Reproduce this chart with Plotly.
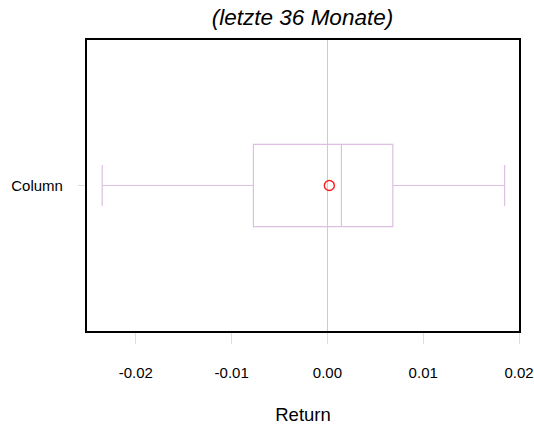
import plotly.graph_objects as go

category = ["Column"]
q1 = [-0.00773]
median = [0.00146]
q3 = [0.00683]
lower_whisker = [-0.02351]
upper_whisker = [0.0185]
mean = [0.0002]
tick_vals = [-0.02, -0.01, 0.0, 0.01, 0.02]
tick_text = ["-0.02", "-0.01", "0.00", "0.01", "0.02"]

fig = go.Figure()
fig.add_trace(go.Box(
    y=category, q1=q1, median=median, q3=q3,
    lowerfence=lower_whisker, upperfence=upper_whisker,
    orientation="h", width=0.283, whiskerwidth=0.5,
    line=dict(color="#DDBFE2", width=1.2), fillcolor="rgba(0,0,0,0)",
    boxpoints=False, showlegend=False, hoverinfo="skip",
))
fig.add_trace(go.Scatter(
    x=mean, y=category, mode="markers",
    marker=dict(symbol="circle-open", size=10, color="#FF1A1A", line=dict(width=1.4)),
    showlegend=False, hoverinfo="skip",
))

font = "Liberation Sans, Arial, Helvetica, sans-serif"
fig.update_layout(
    width=534, height=425,
    margin=dict(l=87, r=15, t=40, b=94, autoexpand=False),
    paper_bgcolor="white", plot_bgcolor="white",
    font=dict(family=font, color="black", size=15),
    title=dict(text="<i>(letzte 36 Monate)</i>", x=302.5 / 534, xanchor="center",
               y=1 - 17 / 425, yanchor="middle", font=dict(size=22.5, family=font)),
    xaxis=dict(
        range=[-0.0251, 0.0200], tickvals=tick_vals, ticktext=tick_text,
        showgrid=False, zeroline=True, zerolinecolor="#CCCCCC", zerolinewidth=1,
        ticks="outside", ticklen=11, tickcolor="#DDDDDD", tickwidth=1,
        ticklabelstandoff=16, automargin=False,
        showline=True, linecolor="black", linewidth=2.2, mirror=True,
        title=dict(text="Return", font=dict(size=18.5), standoff=32),
        tickfont=dict(size=15),
    ),
    yaxis=dict(
        range=[-0.5, 0.5], showgrid=False, zeroline=False,
        ticks="outside", ticklen=7, tickcolor="#DDDDDD",
        ticklabelstandoff=12, automargin=False,
        showline=True, linecolor="black", linewidth=2.2, mirror=True,
        tickfont=dict(size=15),
    ),
)
fig.write_html(
    "out.html",
    config={"displayModeBar": False},
    post_script="document.body.style.margin='0';document.body.style.padding='0';",
)
